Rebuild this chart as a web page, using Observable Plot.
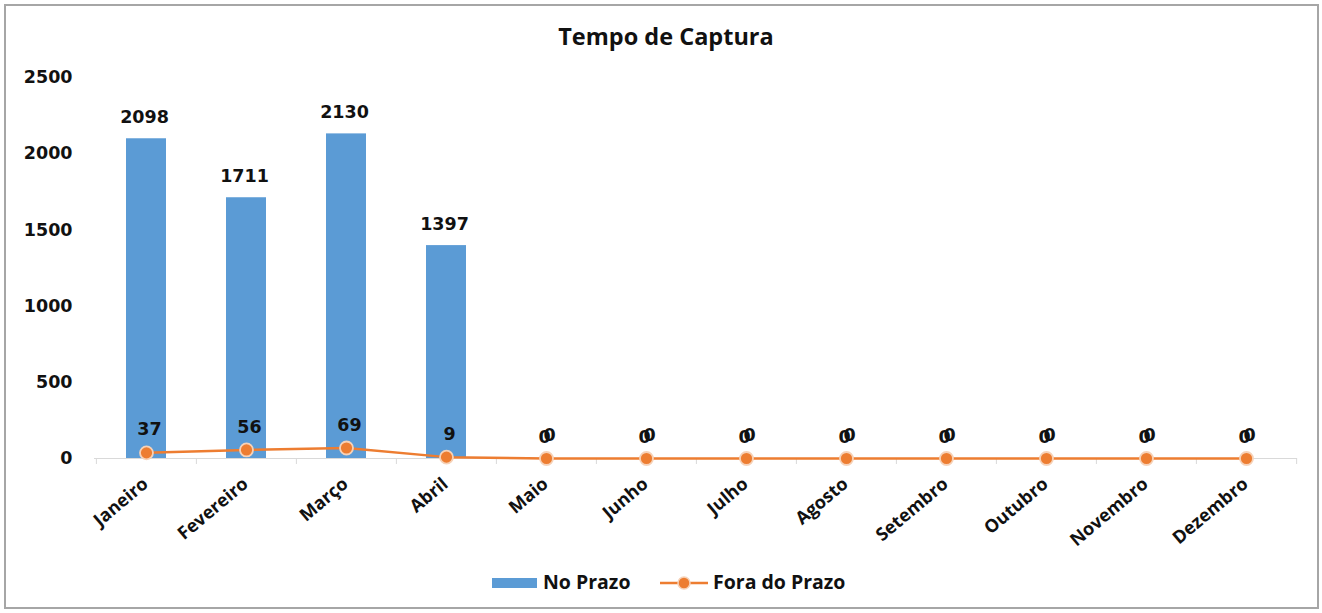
<!DOCTYPE html>
<html>
<head>
<meta charset="utf-8">
<script src="https://cdn.jsdelivr.net/npm/d3@7"></script>
<script src="https://cdn.jsdelivr.net/npm/@observablehq/plot@0.6"></script>
<style>
  html, body { margin: 0; padding: 0; background: #fff; }
  body { width: 1322px; height: 613px; position: relative; overflow: hidden; font-family: "DejaVu Sans", sans-serif; }
  #frame { position: absolute; left: 4px; top: 4px; width: 1315px; height: 605px; box-sizing: border-box; border: 2px solid #a6a6a6; }
  #title { position: absolute; left: 0; top: 20px; width: 1332px; text-align: center; font-family: "Open Sans", sans-serif; font-weight: bold; font-size: 23.5px; color: #111; }
  #chart { position: absolute; left: 0; top: 60px; }
  #legend { position: absolute; left: 0; top: 572px; width: 1322px; height: 22px; }
  .lg { position: absolute; top: -1px; font-family: "Open Sans", sans-serif; font-weight: bold; font-size: 19.5px; color: #111; line-height: 22px; white-space: nowrap; }
</style>
</head>
<body>
<div id="frame"></div>
<div id="title">Tempo de Captura</div>
<div id="chart"></div>
<div id="legend">
  <div style="position:absolute;left:492px;top:6px;width:45px;height:10px;background:#5B9BD5"></div>
  <div class="lg" style="left:543px">No Prazo</div>
  <svg style="position:absolute;left:658px;top:0" width="52" height="22">
    <line x1="2" y1="11" x2="50" y2="11" stroke="#ED7D31" stroke-width="2.5"></line>
    <circle cx="26" cy="11" r="6" fill="#ED7D31" stroke="#f6d2b8" stroke-width="1.5"></circle>
  </svg>
  <div class="lg" style="left:713px">Fora do Prazo</div>
</div>
<script>
const months = ["Janeiro","Fevereiro","Março","Abril","Maio","Junho","Julho","Agosto","Setembro","Outubro","Novembro","Dezembro"];
const noPrazo = [2098, 1711, 2130, 1397, 0, 0, 0, 0, 0, 0, 0, 0];
const foraPrazo = [37, 56, 69, 9, 0, 0, 0, 0, 0, 0, 0, 0];
const yTicks = [0, 500, 1000, 1500, 2000, 2500];

const rows = months.map((m, i) => ({month: m, no: noPrazo[i], fora: foraPrazo[i]}));

const W = 1322, ML = 94, MR = 25;
const step = (W - ML - MR) / months.length;
const font = "DejaVu Sans, sans-serif";
const FS = 17.5;

const plot = Plot.plot({
  width: W,
  height: 498,
  marginLeft: ML,
  marginRight: MR,
  marginTop: 17,
  marginBottom: 100,
  style: {fontFamily: font, fontSize: FS + "px", fontWeight: "bold", color: "#111", background: "transparent"},
  x: {domain: months, paddingInner: 0.6, paddingOuter: 0.3, label: null},
  y: {domain: [0, 2500], label: null},
  marks: [
    Plot.gridY(yTicks.filter(d => d > 0), {stroke: "#d9d9d9", strokeOpacity: 1, strokeWidth: 1, x1: ML - 4}),
    Plot.axisY({ticks: yTicks, tickSize: 0, tickPadding: 22, tickFormat: d => String(d), fontSize: FS, fontWeight: "bold", fill: "#111"}),
    Plot.barY(rows, {x: "month", y: "no", fill: "#5B9BD5"}),
    Plot.ruleY([0], {stroke: "#d9d9d9", strokeWidth: 1.2}),
    Plot.ruleX(months, {x: d => d, y1: 0, y2: 0, dx: -step / 2, insetBottom: -6, stroke: "#d9d9d9"}),
    Plot.ruleX([months[months.length - 1]], {x: d => d, y1: 0, y2: 0, dx: step / 2, insetBottom: -6, stroke: "#d9d9d9"}),
    Plot.axisX({tickSize: 0, tickPadding: 23, tickRotate: -40, fontFamily: "Open Sans, sans-serif", fontSize: 18, fontWeight: "bold", fill: "#111", dx: -1, label: null}),
    Plot.text(rows, {x: "month", y: "no", text: d => String(d.no), dy: -21, dx: -2, fontSize: FS, fontWeight: "bold", fill: "#111"}),
    Plot.line(rows, {x: "month", y: "fora", stroke: "#ED7D31", strokeWidth: 2.5}),
    Plot.dot(rows, {x: "month", y: "fora", r: 6.5, fill: "#ED7D31", stroke: "#f6d2b8", strokeWidth: 1.8}),
    Plot.text(rows, {x: "month", y: "fora", text: d => String(d.fora), dy: -23, dx: 3, fontSize: FS, fontWeight: "bold", fill: "#111"})
  ]
});
document.getElementById("chart").appendChild(plot);
</script>
</body>
</html>
